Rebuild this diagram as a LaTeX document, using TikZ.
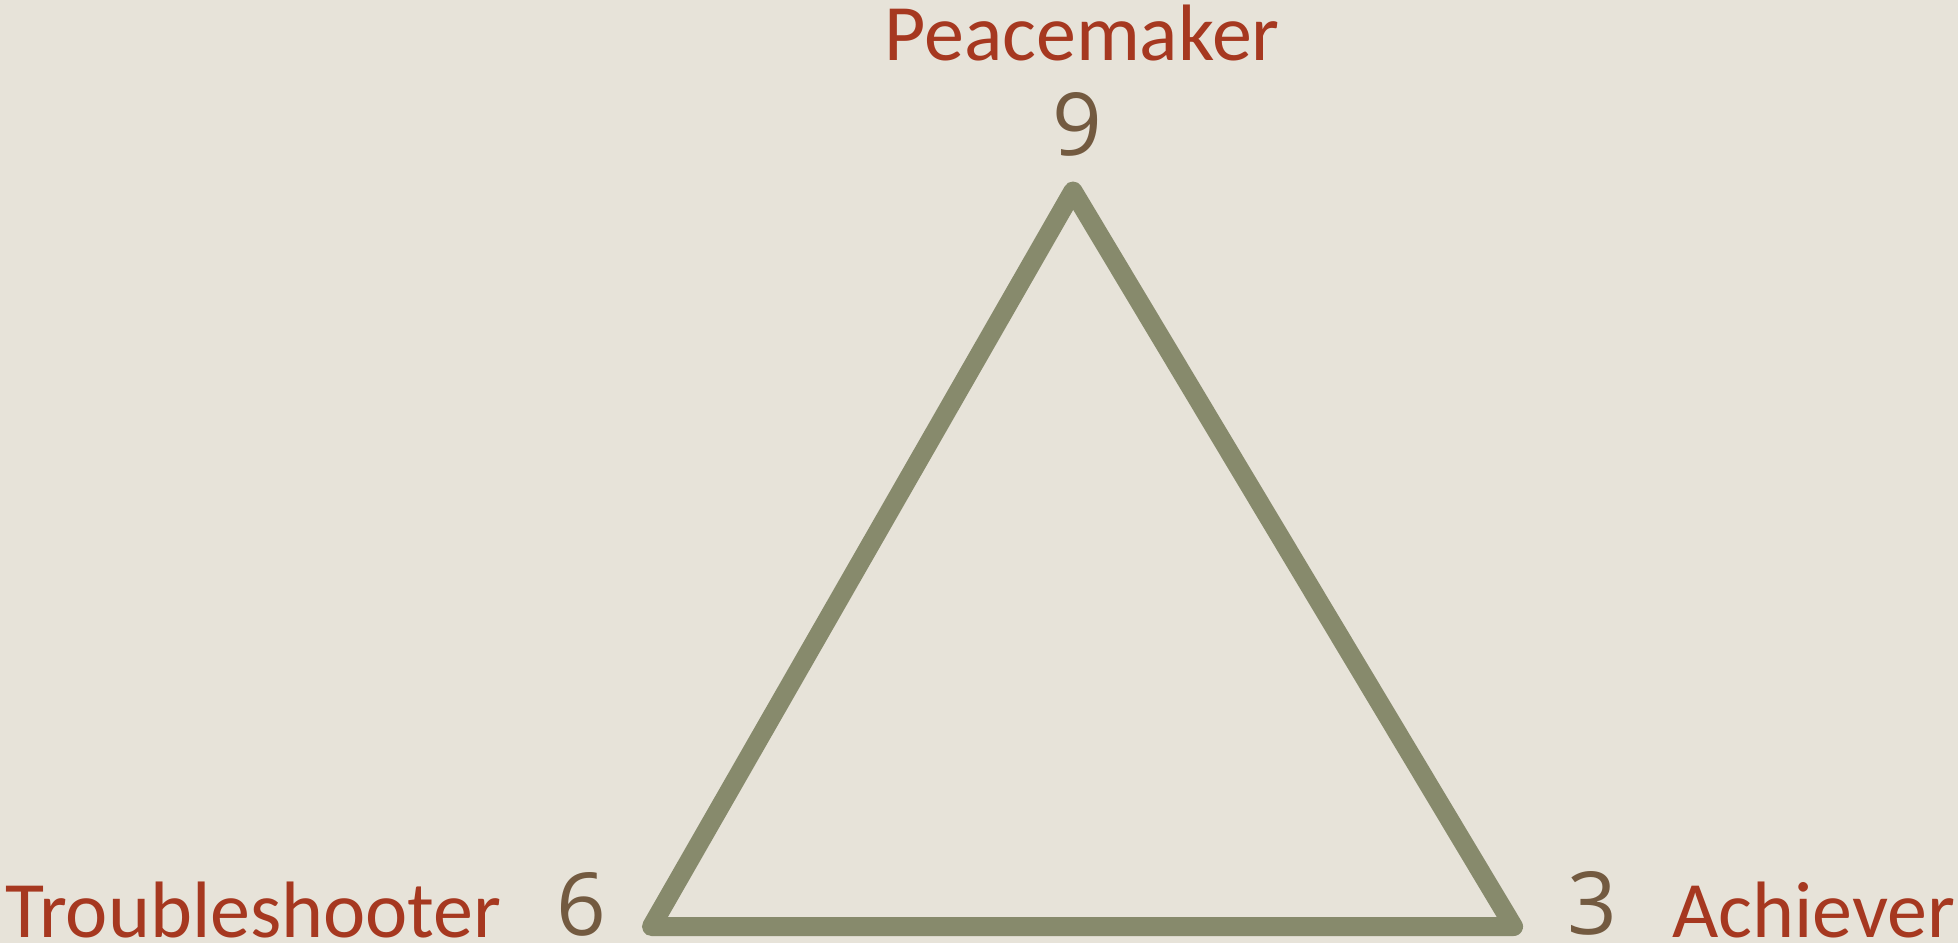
\documentclass[tikz,border=0pt]{standalone}
\usepackage{fontspec}
\setmainfont{Carlito}
\newfontfamily\digitfont{Open Sans}
\definecolor{bgc}{RGB}{231,227,217}
\definecolor{labred}{RGB}{166,56,32}
\definecolor{numbrown}{RGB}{115,90,64}
\definecolor{trigreen}{RGB}{135,138,108}
\tikzset{
  lab/.style={text=labred, inner sep=0pt, font=\fontsize{80}{96}\selectfont},
  num/.style={text=numbrown, inner sep=0pt, font=\digitfont\fontsize{87}{104}\selectfont, anchor=base},
  tri/.style={draw=trigreen, line width=19pt, line join=round}
}
\begin{document}
\begin{tikzpicture}[x=1pt,y=-1pt]
\fill[bgc] (0,0) rectangle (1958,943);
\useasboundingbox (0,0) rectangle (1958,943);
\coordinate (top) at (1073,191);
\coordinate (left) at (651.5,926.5);
\coordinate (right) at (1513.5,926.5);
\draw[tri] (top) -- (left) -- (right) -- cycle;
\node[lab, anchor=base] (peace) at (1082,60) {Peacemaker};
\node[num] (nine) at (1077,155) {9};
\node[lab, anchor=base west] (trouble) at (5,937) {Troubleshooter};
\node[num] (six) at (581,935) {6};
\node[num] (three) at (1592,934) {3};
\node[lab, anchor=base west] (achiever) at (1672,937) {Achiever};
\end{tikzpicture}
\end{document}
